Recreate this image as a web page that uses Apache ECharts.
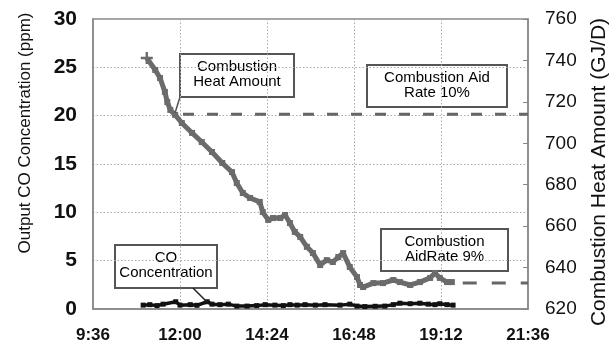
<!DOCTYPE html>
<html><head><meta charset="utf-8">
<script src="https://cdn.jsdelivr.net/npm/echarts@6/dist/echarts.min.js"></script>
<style>html,body{margin:0;padding:0;background:#fff}#c{width:611px;height:345px}</style>
</head><body><div id="c"></div><script>
// x values are minutes since midnight
const xTickLabels = ['9:36', '12:00', '14:24', '16:48', '19:12', '21:36'];
const heatTimes = [665, 679, 687, 695, 699, 704, 712, 723, 740, 756, 773, 790, 806, 814, 824, 836, 852, 857, 866, 874, 886, 894, 902, 910, 919, 930, 940, 952, 963, 973, 982, 990, 1001, 1013, 1018, 1023, 1040, 1056, 1073, 1084, 1101, 1117, 1134, 1142, 1150, 1162, 1170];
const heatValues = [741.2, 735.4, 731.5, 724.8, 719.9, 716.1, 713.7, 709.8, 705.0, 700.6, 695.8, 690.5, 686.1, 680.8, 676.0, 673.6, 671.7, 666.8, 663.0, 663.9, 663.9, 665.4, 661.5, 657.2, 654.8, 650.0, 647.0, 641.2, 643.6, 642.7, 645.1, 647.0, 640.3, 635.4, 631.6, 630.6, 632.5, 632.5, 634.0, 633.0, 631.6, 633.0, 635.0, 637.4, 635.0, 633.0, 633.0];
const coTimes = [659, 670, 682, 692, 713, 720, 737, 748, 765, 773, 786, 800, 814, 831, 847, 861, 877, 891, 902, 914, 927, 944, 960, 985, 1001, 1013, 1026, 1043, 1059, 1073, 1084, 1101, 1117, 1131, 1142, 1150, 1162, 1172];
const coValues = [0.4, 0.45, 0.35, 0.5, 0.75, 0.4, 0.45, 0.38, 0.75, 0.5, 0.45, 0.5, 0.3, 0.3, 0.35, 0.45, 0.4, 0.35, 0.45, 0.4, 0.45, 0.4, 0.45, 0.4, 0.5, 0.3, 0.25, 0.28, 0.3, 0.45, 0.6, 0.55, 0.6, 0.5, 0.45, 0.55, 0.45, 0.4];
const aid10Times = [725, 1296];
const aid10Values = [714, 714];
const aid9Times = [1188, 1296];
const aid9Values = [632.5, 632.5];

const zip = (a, b) => a.map((v, i) => [v, b[i]]);
const FONT = '"Liberation Sans", Arial, sans-serif';
const heatData = zip(heatTimes, heatValues).map((p, i) => i === 0
  ? { value: p, symbol: 'path://M4,0H6V4H10V6H6V10H4V6H0V4H4Z', symbolSize: 12 }
  : p);

const chart = echarts.init(document.getElementById('c'));
function box(x1, y1, x2, y2, text) {
  return {
    type: 'group', z: 100, children: [
      { type: 'rect', shape: { x: x1, y: y1, width: x2 - x1, height: y2 - y1 },
        style: { fill: '#fff', stroke: '#555', lineWidth: 2 } },
      { type: 'text', x: (x1 + x2) / 2, y: (y1 + y2) / 2 - 1,
        style: { text: text, font: '15px ' + FONT, fill: '#000', align: 'center', verticalAlign: 'middle', lineHeight: 15 } }
    ]
  };
}
chart.setOption({
  animation: false,
  grid: { left: 93, right: 83, top: 19, bottom: 36, show: true, borderColor: '#888', borderWidth: 1.5 },
  xAxis: {
    type: 'value', min: 576, max: 1296, interval: 144,
    axisLine: { show: true, lineStyle: { color: '#888', width: 1.5 } },
    axisTick: { show: false },
    splitLine: { show: true, lineStyle: { color: '#aaa', type: [1.5, 2], width: 1 } },
    axisLabel: { margin: 18, color: '#111', fontSize: 17, fontWeight: 'bold', fontFamily: FONT,
      formatter: v => xTickLabels[Math.round((v - 576) / 144)] }
  },
  yAxis: [{
    type: 'value', min: 0, max: 30, interval: 5, position: 'left',
    axisLine: { show: true, lineStyle: { color: '#888', width: 1.5 } },
    axisTick: { show: false },
    splitLine: { show: true, lineStyle: { color: '#aaa', type: [1.5, 2], width: 1 } },
    axisLabel: { margin: 16, color: '#111', fontSize: 21, fontWeight: 'bold', fontFamily: FONT }
  }, {
    type: 'value', min: 620, max: 760, interval: 20, position: 'right',
    axisLine: { show: true, lineStyle: { color: '#888', width: 1.5 } },
    axisTick: { show: true, inside: true, length: 5, lineStyle: { color: '#888' } },
    splitLine: { show: false },
    axisLabel: { margin: 17, color: '#111', fontSize: 19, fontFamily: FONT }
  }],
  series: [
    { type: 'line', yAxisIndex: 1, data: zip(aid10Times, aid10Values), showSymbol: false,
      lineStyle: { color: '#666', width: 3, type: [11, 13] }, z: 3 },
    { type: 'line', yAxisIndex: 1, data: zip(aid9Times, aid9Values), showSymbol: false,
      lineStyle: { color: '#666', width: 3, type: [14, 15] }, z: 3 },
    { type: 'line', yAxisIndex: 1, data: heatData, symbol: 'rect', symbolSize: 6, showSymbol: true,
      itemStyle: { color: '#6b6b6b' }, lineStyle: { color: '#6b6b6b', width: 5 }, z: 4 },
    { type: 'line', yAxisIndex: 0, data: zip(coTimes, coValues), symbol: 'rect', symbolSize: 5, showSymbol: true,
      itemStyle: { color: '#111' }, lineStyle: { color: '#111', width: 3.5 }, z: 4 }
  ],
  graphic: [
    { type: 'text', x: 25, y: 133, rotation: Math.PI / 2,
      style: { text: 'Output CO Concentration (ppm)', font: '17px ' + FONT, fill: '#111', align: 'center', verticalAlign: 'middle' } },
    { type: 'text', x: 599, y: 172, rotation: Math.PI / 2,
      style: { text: 'Combustion Heat Amount (GJ/D)', font: '21px ' + FONT, fill: '#111', align: 'center', verticalAlign: 'middle' } },
    { type: 'line', z: 99, shape: { x1: 180, y1: 97, x2: 175, y2: 113 }, style: { stroke: '#555', lineWidth: 1.5 } },
    { type: 'line', z: 99, shape: { x1: 193, y1: 288, x2: 207, y2: 302 }, style: { stroke: '#222', lineWidth: 1.5 } },
    box(180, 54, 294, 97, 'Combustion\nHeat Amount'),
    box(367, 65, 507, 107, 'Combustion Aid\nRate 10%'),
    box(381, 229, 508, 271, 'Combustion\nAidRate 9%'),
    box(115, 245, 217, 288, 'CO\nConcentration')
  ]
});
</script></body></html>
